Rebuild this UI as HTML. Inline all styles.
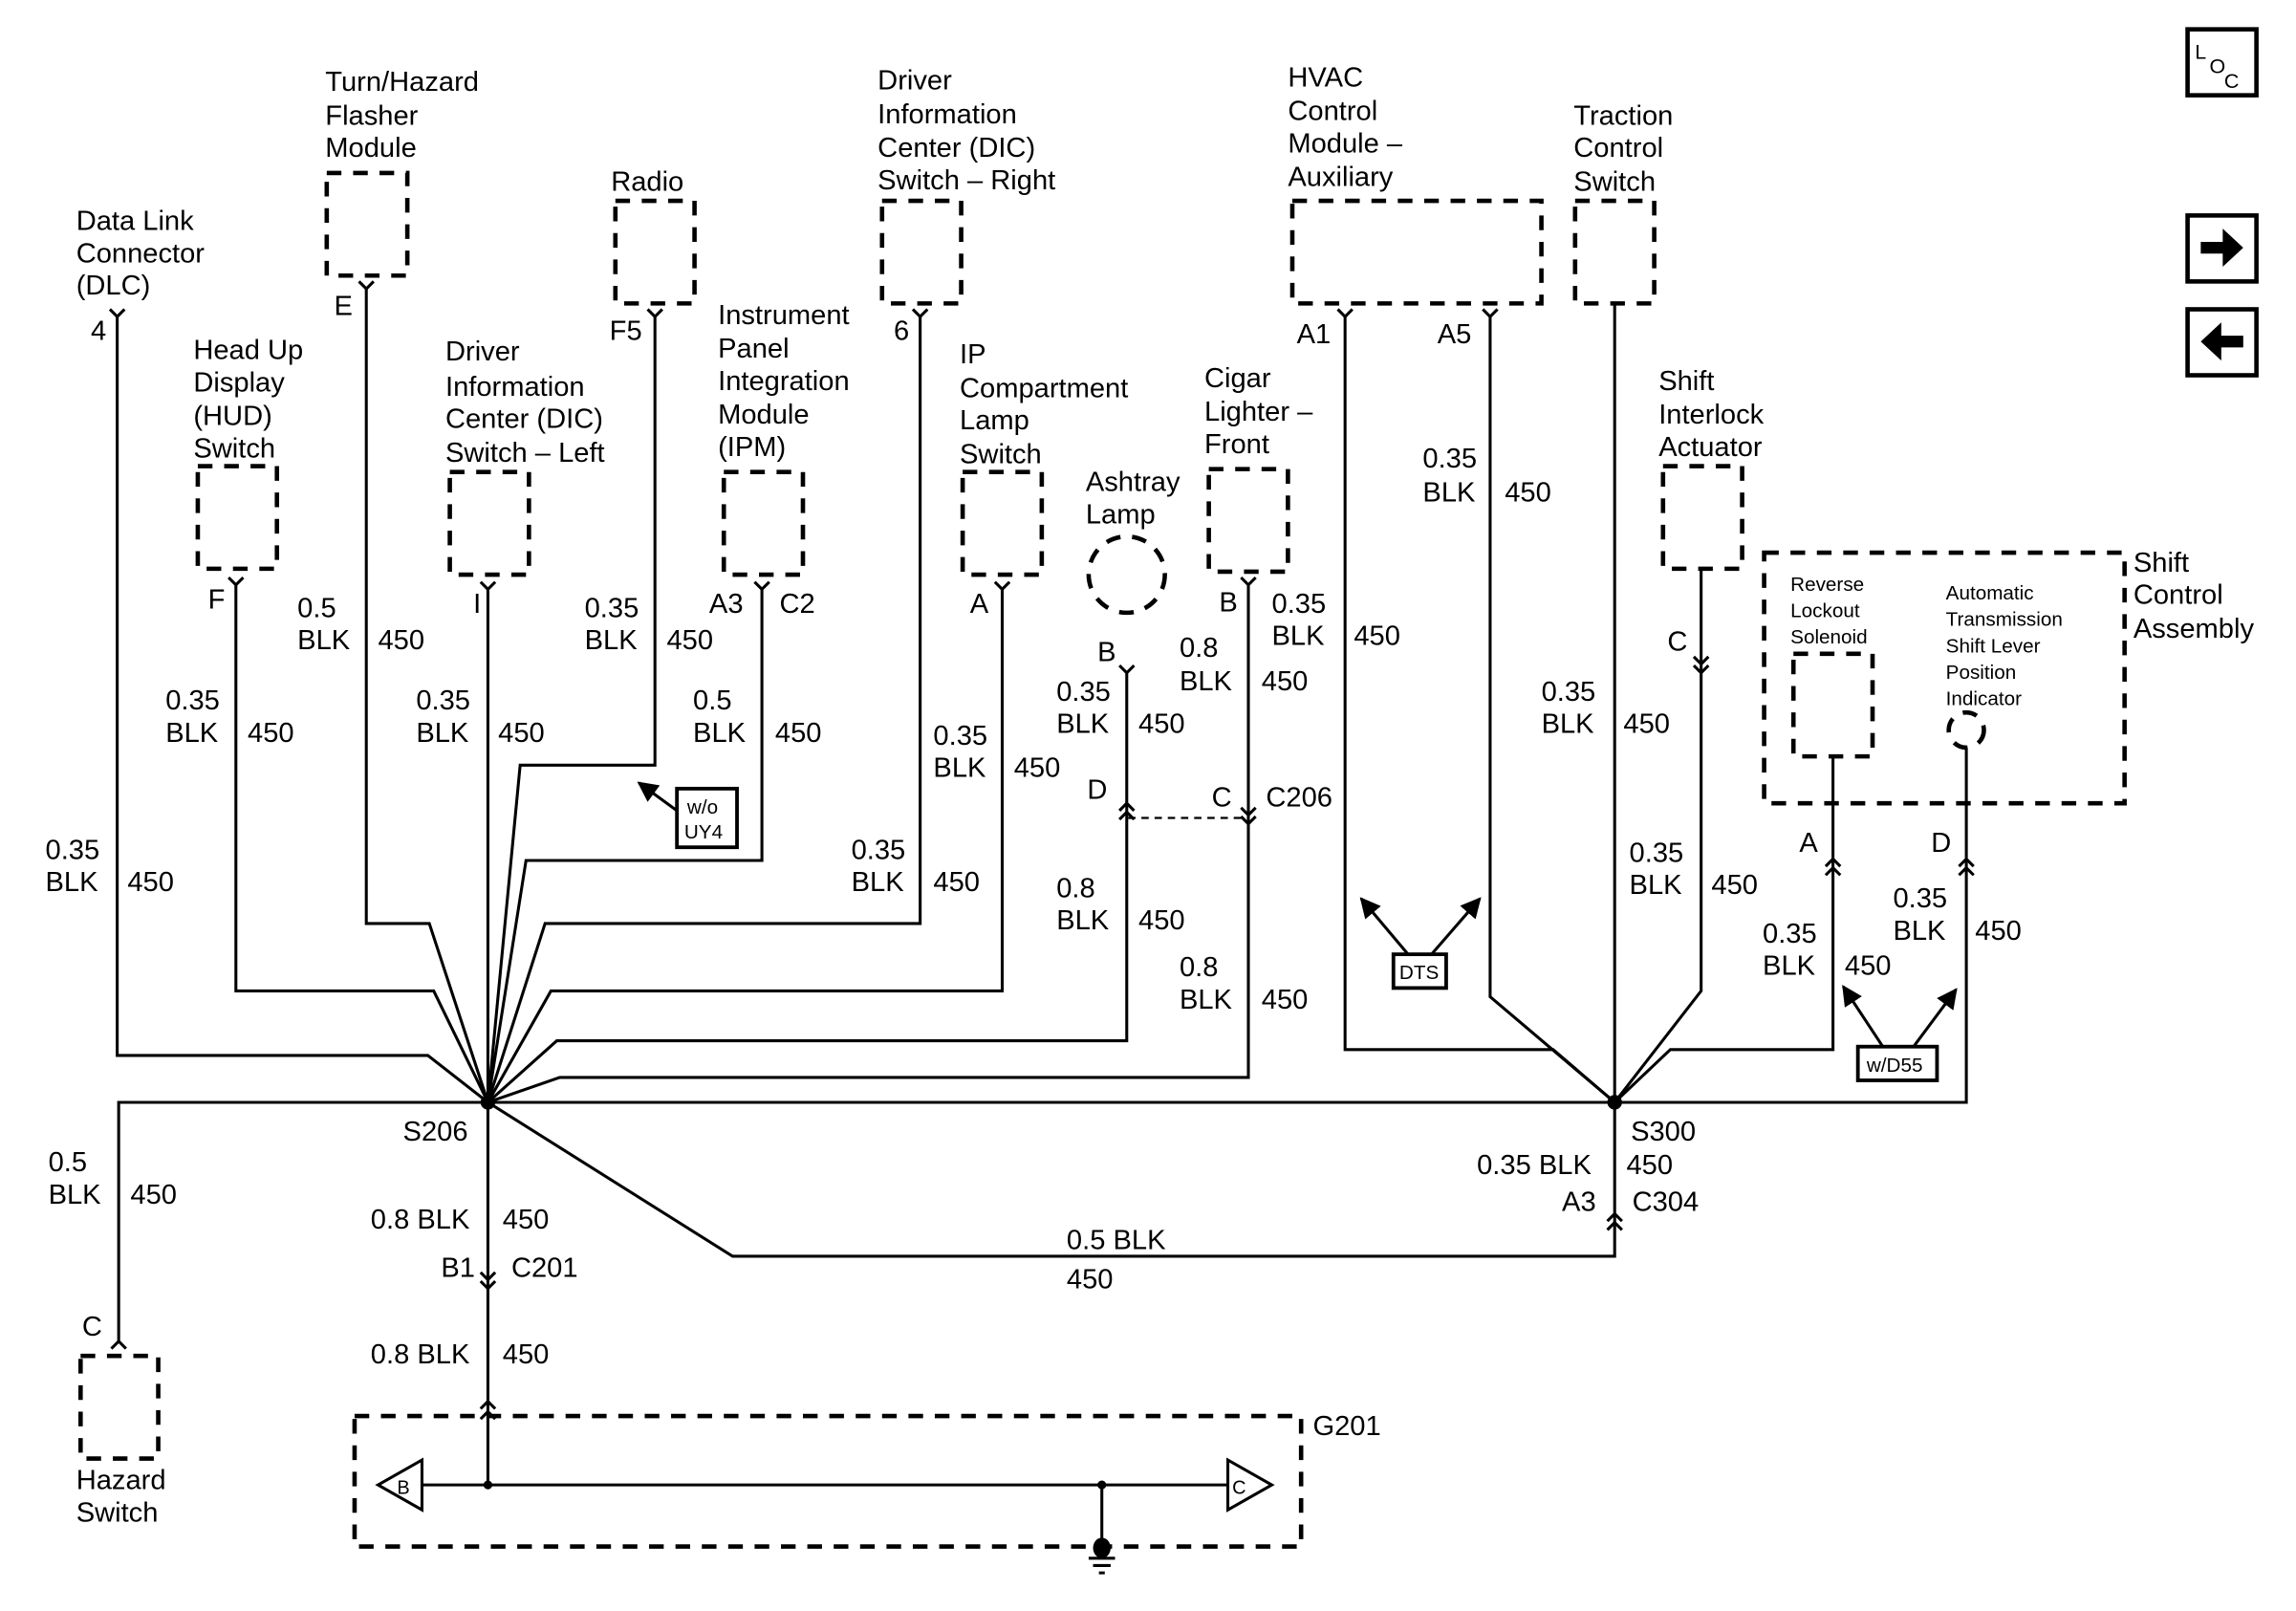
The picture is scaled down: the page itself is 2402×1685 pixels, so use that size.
<!DOCTYPE html>
<html><head><meta charset="utf-8"><style>
html,body{margin:0;padding:0;background:#fff;}
svg{display:block;}
text{font-family:"Liberation Sans",Arial,sans-serif;font-size:19px;fill:#000;}
.s{font-size:13.5px;}
.w{stroke:#000;stroke-width:2;fill:none;}
.d{stroke:#000;stroke-width:3;fill:none;stroke-dasharray:10 8;}
</style></head><body>
<svg width="2402" height="1685" viewBox="0 0 1567 1099" preserveAspectRatio="none" xmlns="http://www.w3.org/2000/svg">
<defs>
<marker id="ah" viewBox="0 0 10 10" refX="9" refY="5" markerWidth="7" markerHeight="7" orient="auto"><path d="M0,0 L10,5 L0,10 z" fill="#000"/></marker>
</defs>

<rect x="1493" y="20" width="47" height="45" fill="none" stroke="#000" stroke-width="3"/>
<text x="1498" y="40" style="font-size:14px">L</text><text x="1508" y="50" style="font-size:14px">O</text><text x="1518" y="60" style="font-size:14px">C</text>
<rect x="1493" y="147" width="47" height="45" fill="none" stroke="#000" stroke-width="3"/>
<path d="M1502,165 h15 v-9 l14,13 l-14,13 v-9 h-15z" fill="#000"/>
<rect x="1493" y="211" width="47" height="45" fill="none" stroke="#000" stroke-width="3"/>
<path d="M1531,229 h-15 v-9 l-14,13 l14,13 v-9 h15z" fill="#000"/>

<text x="52" y="157">Data Link</text><text x="52" y="179">Connector</text><text x="52" y="201">(DLC)</text>
<text x="222" y="62">Turn/Hazard</text><text x="222" y="85">Flasher</text><text x="222" y="107">Module</text>
<text x="417" y="130">Radio</text>
<text x="599" y="61">Driver</text><text x="599" y="84">Information</text><text x="599" y="107">Center (DIC)</text><text x="599" y="129">Switch – Right</text>
<text x="879" y="59">HVAC</text><text x="879" y="82">Control</text><text x="879" y="104">Module –</text><text x="879" y="127">Auxiliary</text>
<text x="1074" y="85">Traction</text><text x="1074" y="107">Control</text><text x="1074" y="130">Switch</text>
<text x="132" y="245">Head Up</text><text x="132" y="267">Display</text><text x="132" y="290">(HUD)</text><text x="132" y="312">Switch</text>
<text x="304" y="246">Driver</text><text x="304" y="270">Information</text><text x="304" y="292">Center (DIC)</text><text x="304" y="315">Switch – Left</text>
<text x="490" y="221">Instrument</text><text x="490" y="244">Panel</text><text x="490" y="266">Integration</text><text x="490" y="289">Module</text><text x="490" y="311">(IPM)</text>
<text x="655" y="248">IP</text><text x="655" y="271">Compartment</text><text x="655" y="293">Lamp</text><text x="655" y="316">Switch</text>
<text x="741" y="335">Ashtray</text><text x="741" y="357">Lamp</text>
<text x="822" y="264">Cigar</text><text x="822" y="287">Lighter –</text><text x="822" y="309">Front</text>
<text x="1132" y="266">Shift</text><text x="1132" y="289">Interlock</text><text x="1132" y="311">Actuator</text>
<text x="1456" y="390">Shift</text><text x="1456" y="412">Control</text><text x="1456" y="435">Assembly</text>
<text class="s" x="1222" y="403">Reverse</text><text class="s" x="1222" y="421">Lockout</text><text class="s" x="1222" y="439">Solenoid</text>
<text class="s" x="1328" y="409">Automatic</text><text class="s" x="1328" y="427">Transmission</text><text class="s" x="1328" y="445">Shift Lever</text><text class="s" x="1328" y="463">Position</text><text class="s" x="1328" y="481">Indicator</text>
<text x="52" y="1016">Hazard</text><text x="52" y="1038">Switch</text>

<rect class="d" x="223" y="118" width="55" height="70"/>
<rect class="d" x="420" y="137" width="54" height="70"/>
<rect class="d" x="602" y="137" width="54" height="70"/>
<rect class="d" x="882" y="137" width="170" height="70"/>
<rect class="d" x="1075" y="137" width="54" height="70"/>
<rect class="d" x="135" y="318" width="54" height="70"/>
<rect class="d" x="307" y="322" width="54" height="70"/>
<rect class="d" x="494" y="322" width="54" height="70"/>
<rect class="d" x="657" y="322" width="54" height="70"/>
<circle class="d" cx="769" cy="392" r="26" stroke-dasharray="9 7"/>
<rect class="d" x="825" y="320" width="54" height="70"/>
<rect class="d" x="1135" y="318" width="54" height="70"/>
<rect class="d" x="1204" y="377" width="246" height="171"/>
<rect class="d" x="1224" y="446" width="54" height="70"/>
<circle class="d" cx="1342" cy="498" r="12" stroke-width="2" stroke-dasharray="6 5"/>
<rect class="d" x="55" y="925" width="53" height="70"/>
<rect class="d" x="242" y="966" width="646" height="89"/>

<g class="w">
<path d="M75,211 L80,216 L85,211"/>
<path d="M245,192 L250,197 L255,192"/>
<path d="M442,211 L447,216 L452,211"/>
<path d="M623,211 L628,216 L633,211"/>
<path d="M913,211 L918,216 L923,211"/>
<path d="M1012,211 L1017,216 L1022,211"/>
<path d="M156,394 L161,399 L166,394"/>
<path d="M328,397 L333,402 L338,397"/>
<path d="M515,397 L520,402 L525,397"/>
<path d="M679,397 L684,402 L689,397"/>
<path d="M764,454 L769,459 L774,454"/>
<path d="M847,394 L852,399 L857,394"/>
<path d="M764,553 L769,548 L774,553 M764,559 L769,554 L774,559"/>
<path d="M847,551 L852,556 L857,551 M847,557 L852,562 L857,557"/>
<path d="M1156,448 L1161,453 L1166,448 M1156,454 L1161,459 L1166,454"/>
<path d="M1246,591 L1251,586 L1256,591 M1246,597 L1251,592 L1256,597"/>
<path d="M1337,591 L1342,586 L1347,591 M1337,597 L1342,592 L1347,597"/>
<path d="M1097,833 L1102,828 L1107,833 M1097,839 L1102,834 L1107,839"/>
<path d="M328,868 L333,873 L338,868 M328,874 L333,879 L338,874"/>
<path d="M328,961 L333,956 L338,961 M328,968 L333,963 L338,968"/>
<path d="M76,920 L81,915 L86,920"/>
</g>

<g class="w">
<path d="M80,216 V720 H292 L333,752"/>
<path d="M161,399 V676 H296 L333,752"/>
<path d="M250,197 V630 H293 L333,752"/>
<path d="M333,402 V752"/>
<path d="M447,216 V522 H355 L333,752"/>
<path d="M520,402 V587 H359 L333,752"/>
<path d="M628,216 V630 H372 L333,752"/>
<path d="M684,402 V676 H376 L333,752"/>
<path d="M769,459 V710 H380 L333,752"/>
<path d="M852,399 V735 H382 L333,752"/>
<path d="M770,558 H852" stroke-dasharray="5 4" stroke-width="1.5"/>
<path d="M81,915 V752 H1342 V586"/>
<path d="M333,752 V963"/>
<path d="M333,752 L500,857 H1102 V828"/>
<path d="M918,216 V716 H1060 L1102,752"/>
<path d="M1017,216 V680 L1102,752"/>
<path d="M1102,207 V830"/>
<path d="M1161,388 V676 L1102,752"/>
<path d="M1251,516 V716 H1140 L1102,752"/>
<path d="M1342,510 V586"/>
<path d="M288,1013 H838"/>
<path d="M333,963 V1013"/>
<path d="M752,1013 V1050"/>
<path d="M288,996 L258,1013 L288,1030 Z M838,996 L868,1013 L838,1030 Z"/>
<path d="M743,1063 H761 M746,1068 H758 M750,1073 H754"/>
</g>
<circle cx="333" cy="752" r="5"/><circle cx="1102" cy="752" r="5"/>
<circle cx="333" cy="1013" r="3"/><circle cx="752" cy="1013" r="3"/>
<ellipse cx="752" cy="1056" rx="6" ry="7"/>
<text x="271" y="1019" class="s" style="font-size:13px">B</text>
<text x="841" y="1019" class="s" style="font-size:13px">C</text>

<rect x="462" y="538" width="41" height="40" fill="#fff" stroke="#000" stroke-width="2.5"/>
<text class="s" x="469" y="555">w/o</text><text class="s" x="467" y="572">UY4</text>
<line class="w" x1="462" y1="553" x2="436" y2="534" marker-end="url(#ah)"/>
<rect x="951" y="651" width="36" height="23" fill="#fff" stroke="#000" stroke-width="2.5"/>
<text class="s" x="955" y="668">DTS</text>
<line class="w" x1="961" y1="651" x2="929" y2="613" marker-end="url(#ah)"/>
<line class="w" x1="977" y1="651" x2="1010" y2="613" marker-end="url(#ah)"/>
<rect x="1268" y="714" width="54" height="23" fill="#fff" stroke="#000" stroke-width="2.5"/>
<text class="s" x="1274" y="731">w/D55</text>
<line class="w" x1="1285" y1="714" x2="1258" y2="673" marker-end="url(#ah)"/>
<line class="w" x1="1306" y1="714" x2="1335" y2="675" marker-end="url(#ah)"/>

<text x="62" y="232">4</text><text x="228" y="215">E</text><text x="416" y="232">F5</text><text x="610" y="232">6</text>
<text x="885" y="234">A1</text><text x="981" y="234">A5</text>
<text x="142" y="415">F</text><text x="323" y="418">I</text><text x="484" y="418">A3</text><text x="532" y="418">C2</text>
<text x="662" y="418">A</text><text x="749" y="451">B</text><text x="832" y="417">B</text><text x="1138" y="444">C</text>
<text x="742" y="545">D</text><text x="827" y="550">C</text><text x="864" y="550">C206</text>
<text x="1228" y="581">A</text><text x="1318" y="581">D</text><text x="56" y="911">C</text>
<text x="896" y="979">G201</text>

<text x="31" y="586">0.35</text><text x="31" y="608">BLK</text><text x="87" y="608">450</text>
<text x="203" y="421">0.5</text><text x="203" y="443">BLK</text><text x="258" y="443">450</text>
<text x="113" y="484">0.35</text><text x="113" y="506">BLK</text><text x="169" y="506">450</text>
<text x="284" y="484">0.35</text><text x="284" y="506">BLK</text><text x="340" y="506">450</text>
<text x="399" y="421">0.35</text><text x="399" y="443">BLK</text><text x="455" y="443">450</text>
<text x="473" y="484">0.5</text><text x="473" y="506">BLK</text><text x="529" y="506">450</text>
<text x="637" y="508">0.35</text><text x="637" y="530">BLK</text><text x="692" y="530">450</text>
<text x="581" y="586">0.35</text><text x="581" y="608">BLK</text><text x="637" y="608">450</text>
<text x="721" y="478">0.35</text><text x="721" y="500">BLK</text><text x="777" y="500">450</text>
<text x="805" y="448">0.8</text><text x="805" y="471">BLK</text><text x="861" y="471">450</text>
<text x="868" y="418">0.35</text><text x="868" y="440">BLK</text><text x="924" y="440">450</text>
<text x="721" y="612">0.8</text><text x="721" y="634">BLK</text><text x="777" y="634">450</text>
<text x="805" y="666">0.8</text><text x="805" y="688">BLK</text><text x="861" y="688">450</text>
<text x="971" y="319">0.35</text><text x="971" y="342">BLK</text><text x="1027" y="342">450</text>
<text x="1052" y="478">0.35</text><text x="1052" y="500">BLK</text><text x="1108" y="500">450</text>
<text x="1112" y="588">0.35</text><text x="1112" y="610">BLK</text><text x="1168" y="610">450</text>
<text x="1203" y="643">0.35</text><text x="1203" y="665">BLK</text><text x="1259" y="665">450</text>
<text x="1292" y="619">0.35</text><text x="1292" y="641">BLK</text><text x="1348" y="641">450</text>
<text x="33" y="799">0.5</text><text x="33" y="821">BLK</text><text x="89" y="821">450</text>
<text x="275" y="778">S206</text>
<text x="253" y="838">0.8 BLK</text><text x="343" y="838">450</text>
<text x="301" y="871">B1</text><text x="349" y="871">C201</text>
<text x="253" y="930">0.8 BLK</text><text x="343" y="930">450</text>
<text x="1113" y="778">S300</text>
<text x="1008" y="801">0.35 BLK</text><text x="1110" y="801">450</text>
<text x="1066" y="826">A3</text><text x="1114" y="826">C304</text>
<text x="728" y="852">0.5 BLK</text><text x="728" y="879">450</text>
</svg>
</body></html>
